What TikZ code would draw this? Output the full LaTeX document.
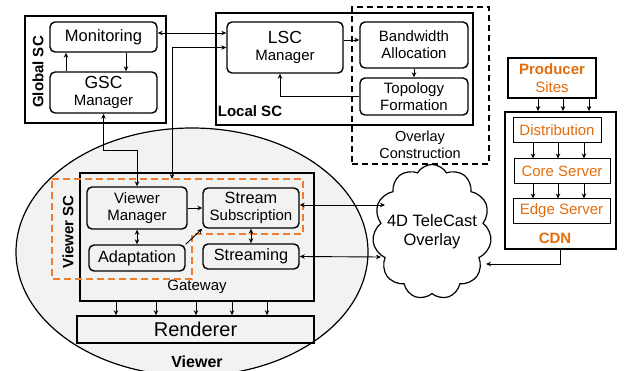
\documentclass[tikz,border=0pt]{standalone}
\usepackage{fontspec}
\setmainfont{Liberation Sans}
\usepackage{tikz}
\usetikzlibrary{arrows.meta,shapes.symbols}

\definecolor{ornText}{RGB}{228,108,10}
\definecolor{ornLine}{RGB}{237,125,49}
\definecolor{viewerFill}{RGB}{242,242,242}

\tikzset{
  rbox/.style={draw, line width=1.4pt, rounded corners=5pt, inner sep=0pt, align=center,
    font=\fontsize{15}{17}\selectfont},
  sqbox/.style={draw, line width=1.8pt, inner sep=0pt},
  cdnbox/.style={draw, line width=1pt, inner sep=0pt, text=ornText,
    font=\fontsize{15}{17}\selectfont},
  lbl/.style={font=\fontsize{15}{17}\selectfont\bfseries},
  conn/.style={line width=0.9pt},
}

\begin{document}
\begin{tikzpicture}[x=1pt, y=-1pt, >={Stealth[length=5pt,width=4.5pt]}]

  %% Background
  \useasboundingbox (0,0) rectangle (628,371);

  % Viewer
  \draw[line width=1.2pt, fill=viewerFill] (192,252) ellipse [x radius=176, y radius=124];
  \node[sqbox, minimum width=234pt, minimum height=128pt] (gw) at (197,237) {};
  \node[font=\fontsize{15}{17}\selectfont] at (197,287) {Gateway};
  \node[rbox, minimum width=100pt, minimum height=42pt] (vm) at (137,208) {Viewer\\Manager};
  \node[rbox, minimum width=96pt, minimum height=40pt] (ss) at (251,208)
    {\fontsize{16.3}{17}\selectfont Stream\\Subscription};
  \node[rbox, minimum width=96pt, minimum height=26pt, font=\fontsize{16.3}{18}\selectfont] (ad) at (137,258) {Adaptation};
  \node[rbox, minimum width=96pt, minimum height=25pt, font=\fontsize{16.3}{18}\selectfont] (st) at (251,256.5) {Streaming};
  \node[draw, line width=1.4pt, minimum width=237pt, minimum height=27pt, inner sep=0pt,
    font=\fontsize{20}{22}\selectfont] (rend) at (195.5,329.5) {Renderer};
  \node[font=\fontsize{16}{18}\selectfont\bfseries] at (197,362) {Viewer};

  % Viewer SC
  \draw[ornLine, line width=2pt, dash pattern=on 7pt off 4pt]
    (52,179) -- (303,179) -- (303,234) -- (192,234) -- (192,279) -- (52,279) -- cycle;
  \node[lbl, rotate=90] at (68,232) {Viewer SC};
  \coordinate (vsctop) at (172,179);

  % Global SC
  \node[sqbox, minimum width=141pt, minimum height=107pt] (global) at (95.5,69.5) {};
  \node[rbox, minimum width=107pt, minimum height=30pt, font=\fontsize{16.5}{18}\selectfont] (mon) at (103.5,37) {Monitoring};
  \node[rbox, minimum width=107pt, minimum height=41pt] (gsc) at (103.5,92.5)
    {{\fontsize{17.5}{19}\selectfont GSC}\\Manager};
  \node[lbl, rotate=90] at (38,72) {Global SC};

  % Local SC
  \node[sqbox, minimum width=257pt, minimum height=112pt] (local) at (344.5,69) {};
  \node[rbox, minimum width=116pt, minimum height=51pt] (lsc) at (285,47.5)
    {{\fontsize{17.5}{19}\selectfont LSC}\\Manager};
  \node[rbox, minimum width=108pt, minimum height=46pt] (bw) at (414,45) {Bandwidth\\Allocation};
  \node[rbox, minimum width=108pt, minimum height=37pt] (tf) at (414,96.5) {Topology\\Formation};
  \node[lbl] at (250,111) {Local SC};

  % Overlay construction
  \node[draw, line width=1.5pt, dash pattern=on 6pt off 4pt, minimum width=137pt,
    minimum height=157pt, inner sep=0pt] (ovc) at (420.5,85.5) {};
  \node[align=center, font=\fontsize{14.5}{16.5}\selectfont] at (420,145) {Overlay\\Construction};

  % CDN
  \node[draw, line width=1.5pt, minimum width=88pt, minimum height=40pt, inner sep=0pt,
    align=center, text=ornText, font=\fontsize{15}{18}\selectfont] (prod) at (552,78)
    {\textbf{Producer}\\Sites};
  \node[sqbox, minimum width=111pt, minimum height=137pt] (cdn) at (560.5,180.5) {};
  \node[cdnbox, minimum width=88pt, minimum height=25pt] (dist) at (557,130.5) {Distribution};
  \node[cdnbox, minimum width=96pt, minimum height=25pt] (core) at (562,171.5) {Core Server};
  \node[cdnbox, minimum width=97pt, minimum height=24pt] (edge) at (561.5,211) {Edge Server};
  \node[lbl, text=ornText] at (555,238) {CDN};

  % Overlay cloud
  \node[cloud, draw, line width=1.2pt, fill=white, cloud puffs=11, cloud puff arc=120,
    inner sep=0pt, minimum width=119pt, minimum height=135pt] (ovl) at (432,232) {};
  \node[align=center, font=\fontsize{16.5}{19}\selectfont] (ovltxt) at (ovl) {4D TeleCast\\Overlay};
  \coordinate (ovlss) at (385,205);
  \coordinate (ovlst) at (381,257);
  \coordinate (ovlcdn) at (486,264);

  % Connectors
  \draw[conn, ->] (mon.south -| 126,0) -- (gsc.north -| 126,0);
  \draw[conn, ->] (gsc.north -| 66,0) -- (mon.south -| 66,0);
  \draw[conn, <->] ([yshift=4pt]mon.east) -- ([yshift=4pt]mon.east -| lsc.west);
  \draw[conn, <->] (vsctop) |- (lsc.west);
  \draw[conn, <->] (gsc.south) -- ++(0,37) -| (vm.north);
  \draw[conn, ->] ([yshift=7.5pt]lsc.east) -- ([yshift=7.5pt]lsc.east -| bw.west);
  \draw[conn, ->] (bw) -- (tf);
  \draw[conn, ->] (tf.west) -| ([xshift=-5pt]lsc.south);

  \draw[conn, ->] (vm) -- (ss);
  \draw[conn, <->] (vm) -- (ad);
  \draw[conn, ->] (ad.north east) -- (ss.south west);
  \draw[conn, <->] (ss) -- (st);
  \draw[conn, <->] ([yshift=3pt]ss.east) -- (ovlss);
  \draw[conn, <->] (st.east) -- (ovlst);
  \draw[conn, ->] (cdn.south) |- (ovlcdn);

  \foreach \x in {116,156,196,232,267}
    \draw[conn, ->] (gw.south -| \x,0) -- (rend.north -| \x,0);
  \foreach \x in {538,563,589}
    \draw[conn, ->] (prod.south -| \x,0) -- (cdn.north -| \x,0);
  \foreach \x in {533,558,584} {
    \draw[conn, ->] (dist.south -| \x,0) -- (core.north -| \x,0);
    \draw[conn, ->] (core.south -| \x,0) -- (edge.north -| \x,0);
  }

\end{tikzpicture}
\end{document}
